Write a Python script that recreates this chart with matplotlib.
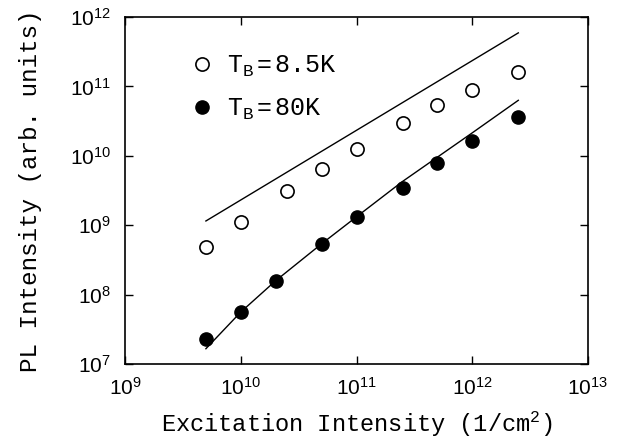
import matplotlib
matplotlib.use("Agg")
import matplotlib.pyplot as plt
import matplotlib.ticker as mticker
import numpy as np

# Data
x_open = [5e9, 1e10, 2.5e10, 5e10, 1e11, 2.5e11, 5e11, 1e12, 2.5e12]
y_open = [4.85e8, 1.11e9, 3.1e9, 6.5e9, 1.25e10, 3.0e10, 5.45e10, 8.9e10, 1.61e11]
x_filled = [5e9, 1e10, 2e10, 5e10, 1e11, 2.5e11, 5e11, 1e12, 2.5e12]
y_filled = [2.27e7, 5.7e7, 1.58e8, 5.36e8, 1.31e9, 3.4e9, 7.8e9, 1.65e10, 3.59e10]
x_fit_open = [5e9, 2.5e12]
y_fit_open = [1.15e9, 5.9e11]
x_fit_filled = [5e9, 1e10, 2e10, 5e10, 1e11, 2.5e11, 1e12, 2.5e12]
y_fit_filled = [1.66e7, 5.6e7, 1.58e8, 5.4e8, 1.32e9, 4.27e9, 2.14e10, 6.3e10]
labels = [r"$\mathrm{T_B=8.5K}$", r"$\mathrm{T_B=80K}$"]

plt.rcParams['font.family'] = ['Liberation Mono', 'DejaVu Sans']
plt.rcParams['mathtext.fontset'] = 'custom'
plt.rcParams['mathtext.rm'] = 'Liberation Mono'
plt.rcParams['mathtext.it'] = 'Liberation Mono'

fig = plt.figure(figsize=(6.25, 4.41), dpi=100)
ax = fig.add_axes([0.2, 0.1746, 0.7408, 0.7869])

ax.plot(x_fit_open, y_fit_open, color='black', lw=1.0)
ax.plot(x_fit_filled, y_fit_filled, color='black', lw=1.0)
ax.plot(x_open, y_open, 'o', mfc='white', mec='black', mew=1.2, ms=9.5, ls='none', label=labels[0])
ax.plot(x_filled, y_filled, 'o', mfc='black', mec='black', ms=9.5, ls='none', label=labels[1])

ax.set_xscale('log')
ax.set_yscale('log')
ax.set_xlim(1e9, 1e13)
ax.set_ylim(1e7, 1e12)
ax.xaxis.set_major_locator(mticker.LogLocator(base=10, numticks=10))
ax.yaxis.set_major_locator(mticker.LogLocator(base=10, numticks=10))
ax.xaxis.set_minor_locator(mticker.NullLocator())
ax.yaxis.set_minor_locator(mticker.NullLocator())
ax.tick_params(which='major', direction='in', length=6, width=1.0, top=True, right=True)
ax.tick_params(axis='x', pad=9)
ax.tick_params(axis='y', pad=10)
for lab in ax.get_xticklabels() + ax.get_yticklabels():
    lab.set_family('Liberation Sans')
    lab.set_fontsize(15)
for s in ax.spines.values():
    s.set_linewidth(1.2)

ax.set_xlabel(r"Excitation Intensity (1/cm$^2$)", fontsize=17, labelpad=8)
ax.set_ylabel("PL Intensity (arb. units)", fontsize=17.5, labelpad=20)

leg = ax.legend(loc='upper left', bbox_to_anchor=(0.118, 0.922), frameon=False,
                fontsize=18, handletextpad=0.5, labelspacing=0.7, handlelength=1.0,
                borderaxespad=0.0)

fig.savefig("out.png", dpi=100)
